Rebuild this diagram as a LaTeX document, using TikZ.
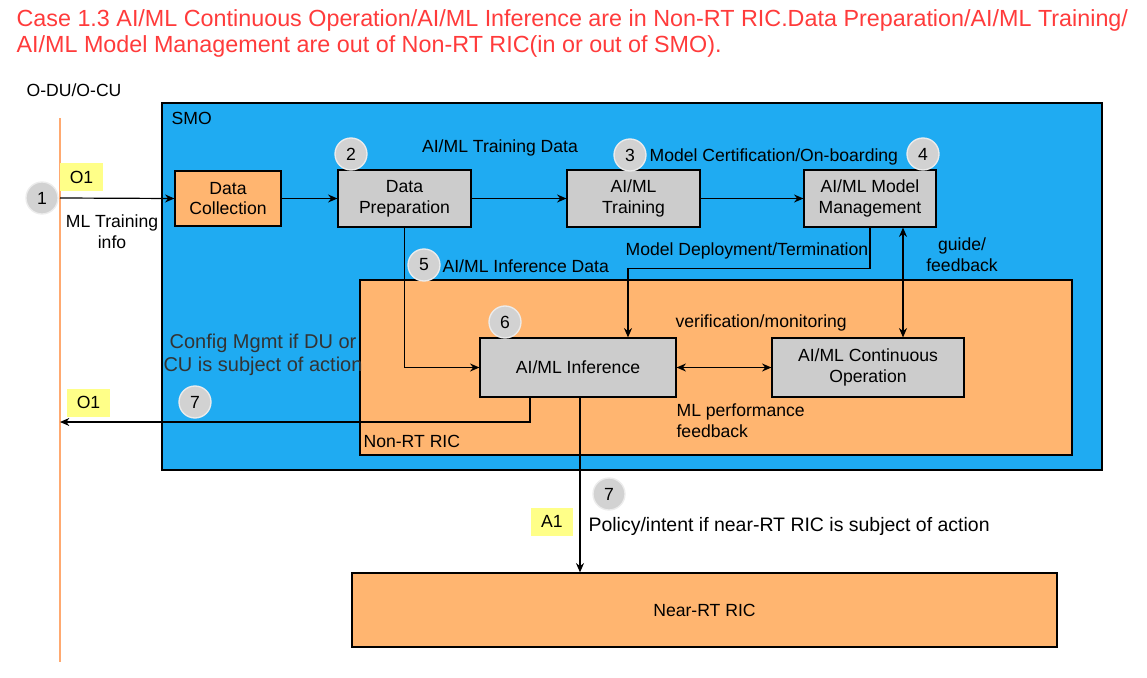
\documentclass[tikz,border=0pt]{standalone}
\usepackage{fontspec}
\setmainfont{Liberation Sans}
\usetikzlibrary{arrows.meta,positioning}
\definecolor{smoblue}{HTML}{1FABF2}
\definecolor{ricorange}{HTML}{FFB570}
\definecolor{boxgray}{HTML}{CCCCCC}
\definecolor{tagyellow}{HTML}{FFFF88}
\definecolor{titlered}{HTML}{FF3B3B}
\definecolor{lineorange}{HTML}{FFA970}

\begin{document}
\begin{tikzpicture}[
  x=0.75pt, y=-0.75pt,
  every node/.style={font=\fontsize{13.2}{15.5}\selectfont},
  box/.style={draw, line width=0.9pt, fill=boxgray, align=center, minimum width=99.75pt, minimum height=42.75pt},
  obox/.style={box, fill=ricorange},
  region/.style={draw, line width=0.9pt},
  badge/.style={circle, fill=gray!35, draw=gray!15, line width=1pt, minimum size=24pt, inner sep=0pt},
  tag/.style={fill=tagyellow, minimum width=32pt, minimum height=21pt, inner sep=0pt},
  lbl/.style={align=left, inner sep=1pt},
  arr/.style={-{Stealth[length=7pt,width=6pt]}, line width=0.9pt},
  darr/.style={{Stealth[length=7pt,width=6pt]}-{Stealth[length=7pt,width=6pt]}, line width=0.9pt}
]
\useasboundingbox (0,0) rectangle (1147,678);

% title
\node[lbl, anchor=west, text=titlered, font=\fontsize{17.5}{20}\selectfont] (title1) at (15,20)
  {Case 1.3 AI/ML Continuous Operation/AI/ML Inference are in Non-RT RIC.Data Preparation/AI/ML Training/};
\node[lbl, anchor=west, text=titlered, font=\fontsize{17.5}{20}\selectfont] (title2) at (15,46)
  {AI/ML Model Management are out of Non-RT RIC(in or out of SMO).};

% O-DU/O-CU side
\node[lbl, anchor=west] (odu) at (25,90) {O-DU/O-CU};
\coordinate (odutop) at (60,118);
\coordinate (odubot) at (60,662);
\draw[lineorange, line width=1pt] (odutop) -- (odubot);
\coordinate (o1in) at (60,198);
\coordinate (o1out) at (60,422);

% regions
\node[region, fill=smoblue, minimum width=705pt, minimum height=275.25pt] (smo) at (632,286.5) {};
\node[lbl, anchor=west] (smolbl) at (170,118) {SMO};
\node[region, fill=ricorange, minimum width=534pt, minimum height=131.25pt] (nonrt) at (716,367.5) {};
\node[lbl, anchor=west] (nonrtlbl) at (362,441) {Non-RT RIC};
\node[region, fill=ricorange, minimum width=528.75pt, minimum height=55.5pt] (nearrt) at (704.5,610) {Near-RT RIC};

% boxes
\node[obox, minimum width=79.5pt, minimum height=41.25pt] (dc) at (228,198.5) {Data\\Collection};
\node[box] (dp) at (404.5,198.5) {Data\\Preparation};
\node[box] (train) at (633.5,198.5) {AI/ML\\Training};
\node[box, minimum width=99pt] (mm) at (870,198.5) {AI/ML Model\\Management};
\node[box, minimum width=147pt, minimum height=44.25pt] (inf) at (578,367.5) {AI/ML Inference};
\node[box, minimum width=144pt, minimum height=44.25pt] (cont) at (868,367.5) {AI/ML Continuous\\Operation};

% interface tags
\node[tag] (o1a) at (81.5,177) {O1};
\node[tag] (o1b) at (88.5,402.5) {O1};
\node[tag, minimum width=31.5pt] (a1) at (552,521.5) {A1};

% step numbers
\node[badge] (n1) at (42,198) {1};
\node[badge] (n2) at (351,154) {2};
\node[badge] (n3) at (630,155) {3};
\node[badge] (n4) at (923,154) {4};
\node[badge] (n5) at (424,265) {5};
\node[badge] (n6) at (505,322) {6};
\node[badge] (n7a) at (195,402) {7};
\node[badge] (n7b) at (609,494) {7};

% connectors
\draw[arr] (o1in) -- (dc.west);
\draw[arr] (dc) -- (dp);
\draw[arr] (dp) -- (train);
\draw[arr] (train) -- (mm);
\draw[arr] (mm.south) -- ++(0,41) -| ([xshift=37.5pt]inf.north);
\draw[arr] (dp.south) |- (inf.west);
\draw[darr] ([xshift=24.75pt]mm.south) -- ([xshift=24.75pt]mm.south |- cont.north);
\draw[darr] (inf) -- (cont);
\draw[arr] ([xshift=-36pt]inf.south) |- (o1out);
\draw[arr] ([xshift=1.5pt]inf.south) -- ([xshift=1.5pt]inf.south |- nearrt.north);

% labels
\node[lbl, align=center] (mltrain) at (112,232) {ML Training\\info};
\node[lbl] (trdata) at (500,148) {AI/ML Training Data};
\node[lbl, anchor=west] (cert) at (648,157) {Model Certification/On-boarding};
\node[lbl, anchor=west] (deploy) at (624,251) {Model Deployment/Termination};
\node[lbl, align=center] (guide) at (962,255) {guide/\\feedback};
\node[lbl, anchor=west] (infdata) at (441,266) {AI/ML Inference Data};
\node[lbl, anchor=west] (verif) at (674,323) {verification/monitoring};
\node[lbl, align=center, text=black!80, font=\fontsize{15}{17.5}\selectfont] (cfg) at (263,355) {Config Mgmt if DU or\\CU is subject of action};
\node[lbl, anchor=west] (perf) at (675,421) {ML performance\\feedback};
\node[lbl, anchor=west, font=\fontsize{14.6}{17}\selectfont] (policy) at (587,526) {Policy/intent if near-RT RIC is subject of action};
\end{tikzpicture}
\end{document}
